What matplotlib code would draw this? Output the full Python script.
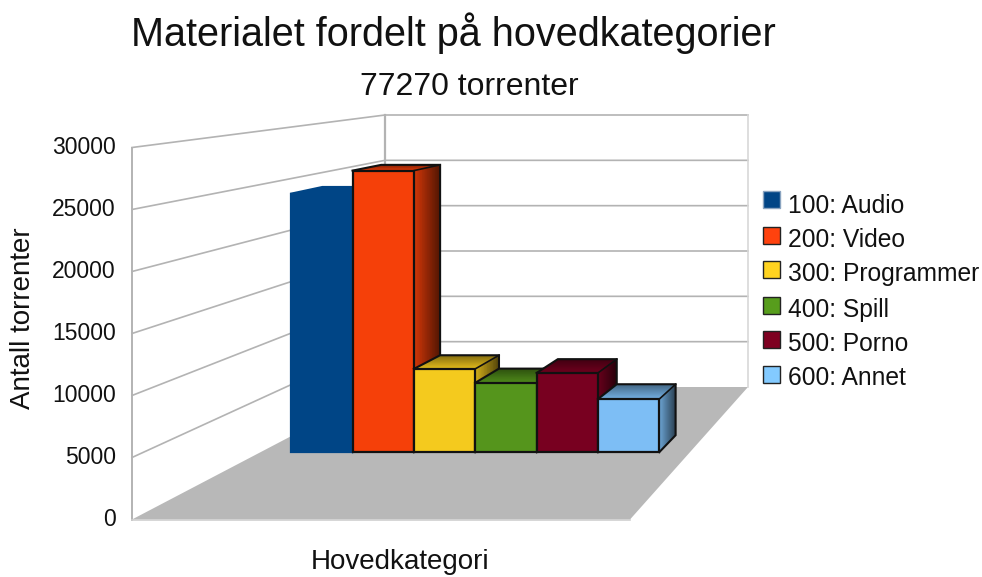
import numpy as np
import matplotlib
matplotlib.use('Agg')
import matplotlib.pyplot as plt
from matplotlib.patches import Rectangle

plt.rcParams['font.family'] = 'Liberation Sans'

title = 'Materialet fordelt på hovedkategorier'
subtitle = '77270 torrenter'
categories = ['100: Audio', '200: Video', '300: Programmer', '400: Spill', '500: Porno', '600: Annet']
values = [24150, 26300, 7780, 6480, 7400, 4960]
colors = ['#004586', '#f54009', '#f4ca1e', '#55951c', '#780020', '#7dbef5']
legend_colors = ['#004586', '#ff420e', '#ffd320', '#579d1c', '#7e0021', '#83caff']
edge_colors = ['#004586', '#111111', '#111111', '#111111', '#111111', '#111111']
ticks = [0, 5000, 10000, 15000, 20000, 25000, 30000]
vmax = 30000
grid = '#b3b3b3'


# oblique projection: f across the floor, v height, d depth into the chart
def project(f, v, d):
    h = v / vmax
    x = (132 + 498 * f) * (1 - d) + (385 + 363 * f) * d
    y = (519.5 - 372 * h) * (1 - d) + (387 - 272 * h) * d
    return x, y


def face(ax, pts, color, zorder, **kw):
    xy = [project(*p) for p in pts]
    ax.fill([p[0] for p in xy], [p[1] for p in xy], color=color, zorder=zorder, **kw)


def shade(color, k):
    return tuple(c * k for c in matplotlib.colors.to_rgb(color))


fig = plt.figure(figsize=(9.82, 5.77), dpi=100)
ax = fig.add_axes([0, 0, 1, 1])
ax.set_xlim(0, 982)
ax.set_ylim(577, 0)
ax.axis('off')

# floor
face(ax, [(0, 0, 0), (1, 0, 0), (1, 0, 1), (0, 0, 1)], '#b8b8b8', 1, linewidth=0)

# walls and grid
for t in ticks:
    x0, y0 = project(0, t, 0)
    x1, y1 = project(0, t, 1)
    x2, y2 = project(1, t, 1)
    if t > 0:
        ax.plot([x0, x1, x2], [y0, y1, y2], color=grid, lw=1.2, zorder=2)
    ax.text(116, y0, str(t), ha='right', va='center', fontsize=16.5, color='#111111')
x0, y0 = project(0, 0, 0)
x1, y1 = project(0, vmax, 0)
ax.plot([x0, x1], [y0, y1], color=grid, lw=1.4, zorder=2)
x0, y0 = project(0, 0, 1)
x1, y1 = project(0, vmax, 1)
ax.plot([x0, x1], [y0, y1], color=grid, lw=1.6, zorder=0.5)
x0, y0 = project(1, 0, 1)
x1, y1 = project(1, vmax, 1)
ax.plot([x0, x1], [y0, y1], color='#d8d8d8', lw=1.2, zorder=2)
x0, y0 = project(0, 0, 0)
x1, y1 = project(1, 0, 0)
ax.plot([x0, x1], [y0, y1], color='#d0d0d0', lw=1.2, zorder=2)

# bars
d0, d1 = 0.508, 0.636
width = 1 / 7
n_strips = 16
for i, v in enumerate(values):
    f0 = (i + 0.5) / 7
    f1 = f0 + width
    z = 5 + i
    c = colors[i]
    e = edge_colors[i]
    ds = np.linspace(d0, d1, n_strips + 1)
    # side face, dark towards the back. each strip runs to the back so no seams show
    for j in range(n_strips):
        k = 0.85 - 0.5 * j / (n_strips - 1)
        face(ax, [(f1, 0, ds[j]), (f1, v, ds[j]), (f1, v, d1), (f1, 0, d1)],
             shade(c, k), z, linewidth=0)
    # top face, same idea
    for j in range(n_strips):
        k = 0.92 - 0.37 * j / (n_strips - 1)
        if i == 0:
            k = 1
        face(ax, [(f0, v, ds[j]), (f1, v, ds[j]), (f1, v, d1), (f0, v, d1)],
             shade(c, k), z, linewidth=0)
    # outline of top and side
    path = [(f0, v, d0), (f0, v, d1), (f1, v, d1), (f1, 0, d1), (f1, 0, d0)]
    xy = [project(*p) for p in path]
    ax.plot([p[0] for p in xy], [p[1] for p in xy], color=e, lw=1.5, zorder=z, solid_joinstyle='miter')
    xy = [project(f1, v, d0), project(f1, v, d1)]
    ax.plot([p[0] for p in xy], [p[1] for p in xy], color=e, lw=1.2, zorder=z)
    # front face
    face(ax, [(f0, 0, d0), (f1, 0, d0), (f1, v, d0), (f0, v, d0)], c, z,
         edgecolor=e, linewidth=1.6, joinstyle='miter')

# legend
swatch_y = [191, 227, 261, 297, 331, 366]
label_y = [206, 240, 274, 310, 344, 378]
for i, cat in enumerate(categories):
    ax.add_patch(Rectangle((763, swatch_y[i]), 17, 17, facecolor=legend_colors[i],
                           edgecolor='#8aa4c0' if i == 0 else '#222222', linewidth=1, zorder=20))
    ax.text(788, label_y[i], cat, ha='left', va='center', fontsize=17.7, color='#111111')

ax.text(453, 33, title, ha='center', va='center', fontsize=28.5, color='#111111')
ax.text(469, 87, subtitle, ha='center', va='center', fontsize=23, color='#111111')
ax.text(400, 562, 'Hovedkategori', ha='center', va='center', fontsize=20, color='#111111')
ax.text(23, 318, 'Antall torrenter', ha='center', va='center', rotation=90, fontsize=20, color='#111111')

fig.savefig('out.png', dpi=100)
